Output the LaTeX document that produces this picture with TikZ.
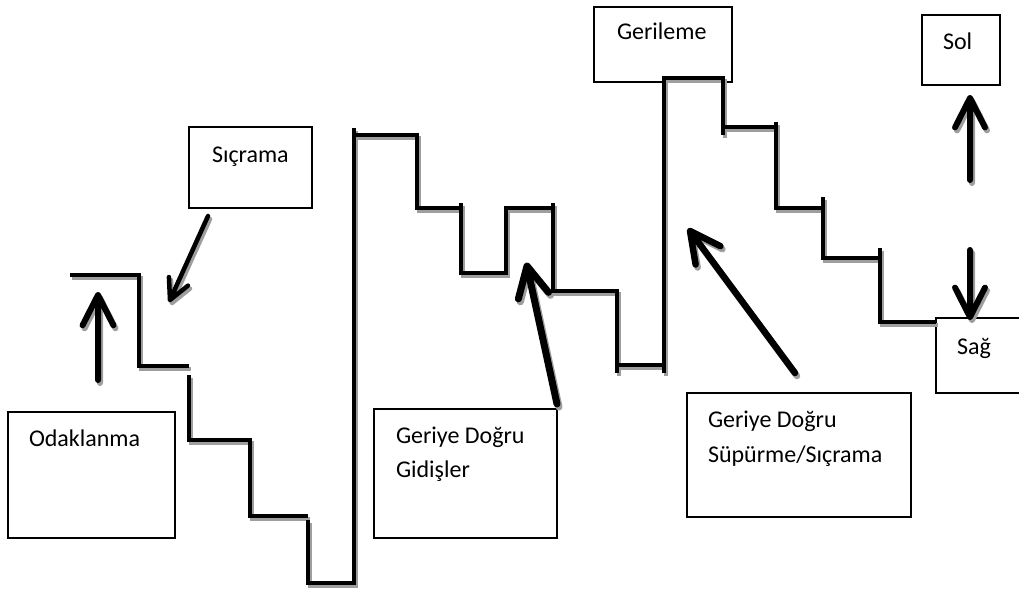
\documentclass[tikz,border=0pt]{standalone}
\usepackage{fontspec}
\setmainfont{Carlito}
\usetikzlibrary{calc}
\definecolor{shade}{gray}{0.62}
\tikzset{
  stair/.style={line width=4.3pt, line cap=butt, line join=miter},
  box/.style={draw, line width=1.3pt, rectangle, inner sep=0pt, outer sep=0pt, anchor=north west},
  lbl/.style={anchor=base west, inner sep=0pt, outer sep=0pt, font=\fontsize{24}{28}\selectfont},
  pointer/.style={line width=6pt, line cap=round, line join=round},
}
% shaft from #2 to #3 with an open chevron head of barb length #4
\newcommand\barbarrow[4][]{%
  \draw[pointer,#1] (#2) -- (#3)
    ($(#3)!#4!27:(#2)$) -- (#3) -- ($(#3)!#4!-27:(#2)$);}
\begin{document}
\begin{tikzpicture}[x=1pt,y=-1pt]
\useasboundingbox (0,0) rectangle (1019,592);
\clip (0,0) rectangle (1019,592);
\fill[white] (0,0) rectangle (1019,592);

% boxes
\node[box, minimum width=167pt, minimum height=126pt] (odak) at (8,412) {};
\node[box, minimum width=123pt, minimum height=81pt] (sicr) at (189,127) {};
\node[box, minimum width=138pt, minimum height=75pt] (geri) at (594,7) {};
\node[box, minimum width=78pt, minimum height=70pt] (sol) at (922,15) {};
\node[box, minimum width=94pt, minimum height=75pt] (sag) at (936,318) {};
\node[box, minimum width=183pt, minimum height=129pt] (gidis) at (374,409) {};
\node[box, minimum width=224pt, minimum height=124pt] (supur) at (687,393) {};

% labels
\node[lbl] (t-odak) at (29,446) {Odaklanma};
\node[lbl] (t-sicr) at (212,162) {Sıçrama};
\node[lbl] (t-geri) at (617,39) {Gerileme};
\node[lbl] (t-sol) at (943,49) {Sol};
\node[lbl] (t-sag) at (957,354) {Sağ};
\node[lbl] (t-gidis1) at (396,443) {Geriye Doğru};
\node[lbl] (t-gidis2) at (396,477) {Gidişler};
\node[lbl] (t-supur1) at (708,427) {Geriye Doğru};
\node[lbl] (t-supur2) at (708,462) {Süpürme/Sıçrama};

% arrow ends
\coordinate (up-tail) at (98,380);   \coordinate (up-tip) at (98,295);
\coordinate (sc-tail) at (208,216);  \coordinate (sc-tip) at (170,300);
\coordinate (gd-tail) at (557,404);  \coordinate (gd-tip) at (527,266);
\coordinate (sp-tail) at (795,373);  \coordinate (sp-tip) at (690,231);
\coordinate (sol-tail) at (970,180); \coordinate (sol-tip) at (970,98);
\coordinate (sag-tail) at (970,250); \coordinate (sag-tip) at (970,317);

% staircase and arrows, each drawn over its grey drop shadow
\foreach \col/\dx/\dy in {shade/2/3, black/0/0}{
\begin{scope}[transform canvas={shift={(\dx pt,-\dy pt)}}, color=\col]
  \draw[stair] (70,275) -- (139,275) -- (139,366) -- (189,366);
  \draw[stair] (189,375) -- (189,440) -- (250,440) -- (250,516) -- (308,516);
  \draw[stair] (308,520) -- (308,583) -- (354,583) -- (354,128);
  \draw[stair] (354,135) -- (417,135) -- (417,208) -- (461,208);
  \draw[stair] (461,203) -- (461,273) -- (506,273) -- (506,208) -- (553,208);
  \draw[stair] (553,203) -- (553,291) -- (617,291) -- (617,373);
  \draw[stair] (617,365) -- (663,365);
  \draw[stair] (664,373) -- (664,78) -- (723,78) -- (723,135);
  \draw[stair] (723,127) -- (776,127);
  \draw[stair] (776,122) -- (776,208) -- (823,208);
  \draw[stair] (823,197) -- (823,258) -- (880,258);
  \draw[stair] (880,248) -- (880,322) -- (936,322);

  \barbarrow{up-tail}{up-tip}{34pt}
  \barbarrow[line width=4.5pt]{sc-tail}{sc-tip}{23pt}
  \barbarrow[line width=7pt]{gd-tail}{gd-tip}{34pt}
  \barbarrow[line width=6.5pt]{sp-tail}{sp-tip}{34pt}
  \barbarrow{sol-tail}{sol-tip}{33pt}
  \barbarrow{sag-tail}{sag-tip}{33pt}
\end{scope}
}
\end{tikzpicture}
\end{document}
